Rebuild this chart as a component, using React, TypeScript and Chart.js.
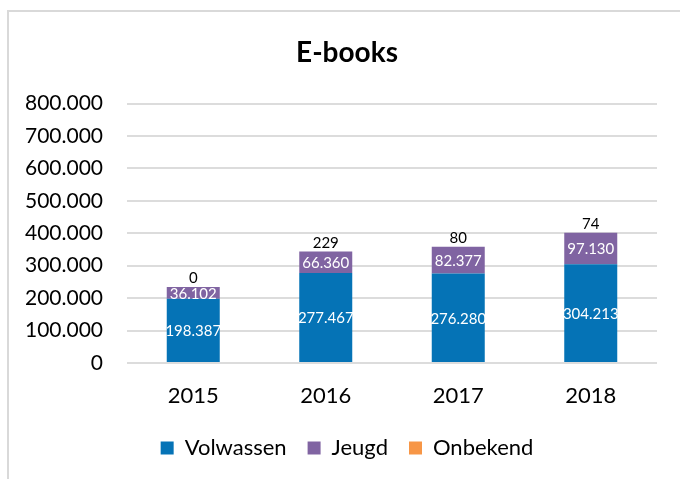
import React, { useEffect, useRef } from "react";
import { Chart, registerables } from "chart.js";

Chart.register(...registerables);

const categories = ["2015", "2016", "2017", "2018"];
const volwassen = [198387, 277467, 276280, 304213];
const jeugd = [36102, 66360, 82377, 97130];
const onbekend = [0, 229, 80, 74];
const seriesNames = ["Volwassen", "Jeugd", "Onbekend"];
const yMax = 800000;
const yStep = 100000;

const FONT = "Lato, 'Open Sans', sans-serif";

function fmt(v: number): string {
  return Math.round(v)
    .toString()
    .replace(/\B(?=(\d{3})+(?!\d))/g, ".");
}

const labelPlugin = {
  id: "barLabels",
  afterDatasetsDraw(chart: any) {
    const ctx = chart.ctx;
    ctx.save();
    ctx.textAlign = "center";
    chart.data.datasets.forEach((ds: any, di: number) => {
      const meta = chart.getDatasetMeta(di);
      meta.data.forEach((el: any, i: number) => {
        const v = ds.data[i];
        if (di < 2) {
          ctx.font = `15px ${FONT}`;
          ctx.fillStyle = "#ffffff";
          ctx.textBaseline = "middle";
          ctx.fillText(fmt(v), el.x, (el.y + el.base) / 2 + 1);
        } else {
          ctx.font = `15px ${FONT}`;
          ctx.fillStyle = "#000000";
          ctx.textBaseline = "bottom";
          ctx.fillText(fmt(v), el.x, el.y - 1);
        }
      });
    });
    ctx.restore();
  },
};

export default function App() {
  const ref = useRef<HTMLCanvasElement | null>(null);
  useEffect(() => {
    if (!ref.current) return;
    const chart = new Chart(ref.current, {
      type: "bar",
      data: {
        labels: categories,
        datasets: [
          { label: seriesNames[0], data: volwassen, backgroundColor: "#0573B6" },
          { label: seriesNames[1], data: jeugd, backgroundColor: "#8064A2" },
          { label: seriesNames[2], data: onbekend, backgroundColor: "#F79646" },
        ],
      },
      options: {
        responsive: false,
        animation: false,
        devicePixelRatio: 1,
        datasets: { bar: { categoryPercentage: 1, barPercentage: 0.4 } },
        layout: { padding: { left: 0, right: 0, top: 0, bottom: 10 } },
        plugins: {
          title: {
            display: true,
            text: "E-books",
            color: "#000",
            font: { family: FONT, size: 28, weight: "bold" },
            padding: { top: 24, bottom: 34 },
          },
          legend: {
            position: "bottom",
            labels: {
              color: "#000",
              font: { family: FONT, size: 22 },
              boxWidth: 13,
              boxHeight: 13,
              padding: 21,
            },
          },
          tooltip: { enabled: false },
        },
        scales: {
          x: {
            stacked: true,
            grid: { display: false },
            border: { display: false },
            ticks: { color: "#000", font: { family: FONT, size: 22 }, padding: 12 },
            afterFit: (s: any) => {
              s.height = 53;
            },
          },
          y: {
            stacked: true,
            min: 0,
            max: yMax,
            grid: { color: "#dcdcdc", lineWidth: 2, drawTicks: false },
            border: { display: false },
            ticks: {
              stepSize: yStep,
              color: "#000",
              font: { family: FONT, size: 21 },
              padding: 24,
              callback: (v: any) => fmt(Number(v)),
            },
            afterFit: (s: any) => {
              s.width = 118;
            },
          },
          yRight: {
            position: "right",
            display: true,
            grid: { display: false },
            border: { display: false },
            ticks: { display: false },
            afterFit: (s: any) => {
              s.width = 28;
            },
          },
        },
      },
      plugins: [labelPlugin],
    });
    return () => chart.destroy();
  }, []);

  return (
    <div
      style={{
        position: "fixed",
        left: 0,
        top: 0,
        width: 680,
        height: 479,
        overflow: "hidden",
        background: "#fff",
      }}
    >
      <div
        style={{
          position: "absolute",
          left: 7,
          top: 10,
          width: 700,
          height: 500,
          borderLeft: "2px solid #d9d9d9",
          borderTop: "2px solid #d9d9d9",
        }}
      >
        <canvas ref={ref} width={676} height={467} style={{ display: "block" }} />
      </div>
    </div>
  );
}
